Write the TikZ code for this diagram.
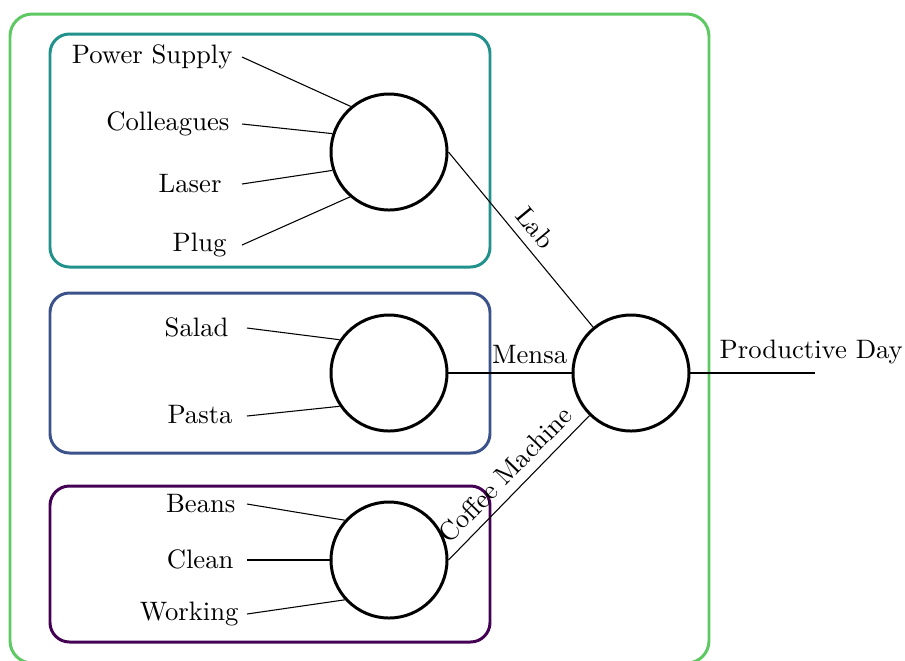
\documentclass[tikz,border=0pt]{standalone}
\usetikzlibrary{calc}
\definecolor{vgreen}{HTML}{5EC962}
\definecolor{vteal}{HTML}{21918C}
\definecolor{vblue}{HTML}{3B528B}
\definecolor{vpurple}{HTML}{440154}
\begin{document}
\begin{tikzpicture}[x=0.375pt,y=-0.375pt,
  grp/.style={line width=1.12pt,rounded corners=7.3pt},
  hub/.style={circle,draw,line width=1.12pt,minimum size=116*0.375pt,inner sep=0pt},
  lbl/.style={inner sep=0pt,anchor=east},
  conn/.style={line width=0.4pt}]
\useasboundingbox (0,0) rectangle (905,660);
% groups
\draw[grp,vgreen,rounded corners=8.3pt] (10,14) rectangle (709,663);
\draw[grp,vteal] (50,34) rectangle (490,267);
\draw[grp,vblue] (50,293) rectangle (490,453);
\draw[grp,vpurple] (50,486) rectangle (490,642);
% hubs
\node[hub] (T) at (389,152) {};
\node[hub] (M) at (389,373) {};
\node[hub] (B) at (389,560) {};
\node[hub] (R) at (631,373) {};
% top group
\node[lbl] (ps) at (233,57) {Power Supply};
\node[lbl] (co) at (230,124) {Colleagues};
\node[lbl] (la) at (222,184) {Laser};
\node[lbl] (pl) at (227,245) {Plug};
\coordinate (psx) at (242,57);
\coordinate (cox) at (242,124);
\coordinate (lax) at (242,184);
\coordinate (plx) at (242,245);
\draw[conn] (psx) -- (T.130);
\draw[conn] (cox) -- (T.162);
\draw[conn] (lax) -- (T.198);
\draw[conn] (plx) -- (T.229);
% middle group
\node[lbl] (sa) at (229,327) {Salad};
\node[lbl] (pa) at (233,415) {Pasta};
\coordinate (sax) at (247,328);
\coordinate (pax) at (247,416);
\draw[conn] (sax) -- (M.146);
\draw[conn] (pax) -- (M.214);
% bottom group
\node[lbl] (be) at (236,504) {Beans};
\node[lbl] (cl) at (234,559) {Clean};
\node[lbl] (wo) at (239,614) {Working};
\coordinate (bex) at (247,504);
\coordinate (clx) at (247,560);
\coordinate (wox) at (247,614);
\draw[conn] (bex) -- (B.138);
\draw[conn] (clx) -- (B.180);
\draw[conn] (wox) -- (B.222);
% to right hub
\draw[conn] (T.east) -- (R) node[midway,above,sloped] {Lab};
\draw[conn] (M.east) -- (R) node[pos=0.66,above] {Mensa};
\draw[conn] (B.east) -- (R) node[midway,above,sloped] {Coffee Machine};
\coordinate (pd) at (815,373);
\draw[conn] (R) -- (pd) node[pos=0.97,above] {Productive Day};
\end{tikzpicture}
\end{document}
